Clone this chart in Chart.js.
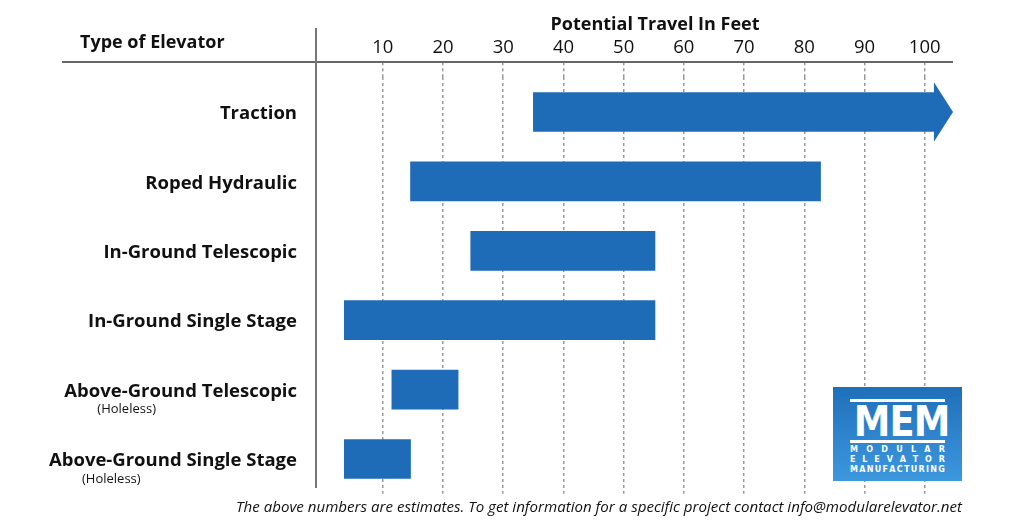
<!DOCTYPE html>
<html>
<head>
<meta charset="utf-8">
<script src="https://cdn.jsdelivr.net/npm/chart.js@4"></script>
<style>
  body { margin: 0; background: #fff; }
  #wrap { position: relative; width: 1024px; height: 526px; overflow: hidden; }
  #logo {
    position: absolute; left: 833px; top: 387px; width: 129px; height: 94px;
    background: linear-gradient(#1f6fbb, #3d98de);
    color: #fff; font-family: "DejaVu Sans", sans-serif; font-weight: bold;
  }
  #logo .bar { position: absolute; left: 17px; width: 95px; height: 3px; background: #fff; }
  #logo .big {
    position: absolute; left: 17px; top: 17px; width: 95px; text-align: center;
    font-size: 40px; line-height: 34px; letter-spacing: -1px;
    transform: scale(0.92, 1.05);
  }
  #logo .small {
    position: absolute; left: 17px; width: 95px; font-size: 8px; line-height: 9px;
    display: flex; justify-content: space-between;
  }
</style>
</head>
<body>
<div id="wrap">
  <canvas id="chart" width="1024" height="526"></canvas>
  <div id="logo">
    <div class="bar" style="top:12px"></div>
    <div class="big">MEM</div>
    <div class="bar" style="top:53px"></div>
    <div class="small" style="top:58px"><span>M</span><span>O</span><span>D</span><span>U</span><span>L</span><span>A</span><span>R</span></div>
    <div class="small" style="top:68px"><span>E</span><span>L</span><span>E</span><span>V</span><span>A</span><span>T</span><span>O</span><span>R</span></div>
    <div class="small" style="top:78px"><span>M</span><span>A</span><span>N</span><span>U</span><span>F</span><span>A</span><span>C</span><span>T</span><span>U</span><span>R</span><span>I</span><span>N</span><span>G</span></div>
  </div>
</div>
<script>
// elevator types, top to bottom
const tipos = [
  'Traction',
  'Roped Hydraulic',
  'In-Ground Telescopic',
  'In-Ground Single Stage',
  'Above-Ground Telescopic',
  'Above-Ground Single Stage'
];
const subTipos = ['', '', '', '', '(Holeless)', '(Holeless)'];

// travel range in feet (start, end)
const inicio = [35, 14.6, 24.6, 3.6, 11.5, 3.6];
const fim = [101.7, 82.7, 55.2, 55.2, 22.5, 14.6];
// arrow tip for open-ended ranges
const setas = [104.7, null, null, null, null, null];

const ticksX = [10, 20, 30, 40, 50, 60, 70, 80, 90, 100];
const xMin = -1.1;
const xMax = 104.7;

const azul = '#1e6cb7';
const fonte = '"Open Sans", "Noto Sans", sans-serif';
const padLabel = 11;

const decoracao = {
  id: 'decoracao',
  afterDatasetsDraw(chart) {
    const ctx = chart.ctx;
    const x = chart.scales.x;
    const meta = chart.getDatasetMeta(0);

    // arrow heads
    ctx.save();
    ctx.fillStyle = azul;
    meta.data.forEach((el, i) => {
      if (setas[i] == null) return;
      const h = el.height * 0.76;
      const tip = x.getPixelForValue(setas[i]);
      ctx.beginPath();
      ctx.moveTo(el.x - 1, el.y - h);
      ctx.lineTo(tip, el.y);
      ctx.lineTo(el.x - 1, el.y + h);
      ctx.closePath();
      ctx.fill();
    });
    ctx.restore();
  },
  afterDraw(chart) {
    const ctx = chart.ctx;
    const area = chart.chartArea;
    const y = chart.scales.y;
    ctx.save();

    // header line and divider
    ctx.strokeStyle = '#666';
    ctx.lineWidth = 2;
    ctx.beginPath();
    ctx.moveTo(62, 62);
    ctx.lineTo(area.right, 62);
    ctx.stroke();
    ctx.strokeStyle = '#777';
    ctx.beginPath();
    ctx.moveTo(area.left, 28);
    ctx.lineTo(area.left, 488);
    ctx.stroke();

    ctx.fillStyle = '#111';
    ctx.textBaseline = 'middle';
    ctx.font = 'bold 18px ' + fonte;
    ctx.textAlign = 'center';
    ctx.fillText('Potential Travel In Feet', 655, 25);
    ctx.textAlign = 'left';
    ctx.fillText('Type of Elevator', 80, 43);

    // sub labels under the category names
    ctx.font = '13px ' + fonte;
    subTipos.forEach((s, i) => {
      if (!s) return;
      ctx.save();
      ctx.font = 'bold 18.5px ' + fonte;
      const w = ctx.measureText(tipos[i]).width;
      ctx.restore();
      const left = area.left - padLabel - 6 - w;
      ctx.fillText(s, left + 31, y.getPixelForValue(i) + 20);
    });

    // footnote
    ctx.font = 'italic 15.2px ' + fonte;
    ctx.textAlign = 'center';
    ctx.fillText('The above numbers are estimates. To get information for a specific project contact info@modularelevator.net',
      599, 508, 726);
    ctx.restore();
  }
};

new Chart(document.getElementById('chart'), {
  type: 'bar',
  data: {
    labels: tipos,
    datasets: [{
      data: tipos.map((t, i) => [inicio[i], fim[i]]),
      backgroundColor: azul,
      borderWidth: 0,
      borderSkipped: false,
      barThickness: 39
    }]
  },
  options: {
    indexAxis: 'y',
    responsive: false,
    devicePixelRatio: 1,
    animation: false,
    layout: { padding: { left: 0, top: 0, right: 71, bottom: 32.3 } },
    plugins: {
      legend: { display: false },
      tooltip: { enabled: false }
    },
    scales: {
      x: {
        type: 'linear',
        position: 'top',
        min: xMin,
        max: xMax,
        afterBuildTicks: (s) => { s.ticks = ticksX.map(v => ({ value: v })); },
        afterFit: (s) => { s.height = 77.3; },
        border: { display: false, dash: [3, 3] },
        grid: {
          color: '#999',
          lineWidth: 1.5,
          drawTicks: true,
          tickLength: 15,
          tickColor: '#999',
          tickWidth: 1.5,
          tickBorderDash: [3, 3]
        },
        ticks: {
          color: '#111',
          font: { family: fonte, size: 18.5 },
          padding: 3,
          maxRotation: 0
        }
      },
      y: {
        afterFit: (s) => { s.width = 316; },
        border: { display: false },
        grid: { display: false },
        ticks: {
          color: '#111',
          font: { family: fonte, size: 18.5, weight: 'bold' },
          padding: padLabel,
          labelOffset: 2
        }
      }
    }
  },
  plugins: [decoracao]
});
</script>
</body>
</html>
